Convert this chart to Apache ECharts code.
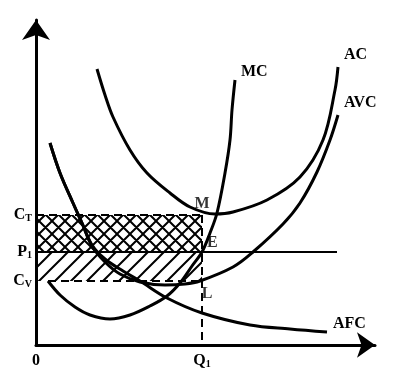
<!DOCTYPE html>
<html><head><meta charset="utf-8">
<script src="https://cdn.jsdelivr.net/npm/echarts@6/dist/echarts.min.js"></script>
<style>html,body{margin:0;padding:0;background:#fff}#c{width:402px;height:384px}</style>
</head><body><div id="c"></div>
<script>
// ---- data (quantity units on x, cost units on y) ----
const acQ  = [6.1, 6.9, 7.7, 9.4, 11.1, 13.4, 15.4, 17.9, 19.7, 23.1, 26.4, 28.7, 29.9, 30.2];
const acC  = [27.6, 25.0, 22.8, 19.5, 17.2, 15.2, 13.8, 13.1, 13.3, 14.5, 16.8, 20.5, 25.5, 27.8];
const avcQ = [1.4, 2.4, 3.7, 4.6, 5.6, 6.9, 8.4, 10.4, 12.9, 14.9, 16.4, 19.7, 21.7, 24.7, 26.4, 28.1, 29.4, 30.2];
const avcC = [20.2, 17.2, 14.2, 12.2, 9.9, 8.3, 7.1, 6.3, 6.0, 6.1, 6.4, 7.8, 9.3, 12.1, 14.2, 17.3, 20.5, 23.0];
const afcQ = [1.4, 2.4, 3.7, 4.6, 5.6, 6.9, 8.7, 10.4, 13.1, 16.6, 21.4, 25.4, 29.1];
const afcC = [20.2, 17.2, 14.2, 12.2, 10.0, 8.6, 7.4, 6.4, 4.7, 3.2, 2.0, 1.6, 1.3];
const mcQ  = [1.2, 2.4, 3.9, 5.4, 7.4, 9.4, 11.4, 13.1, 14.4, 15.6, 16.6, 17.4, 18.1, 18.9, 19.4, 19.6, 19.9];
const mcC  = [6.4, 5.0, 3.8, 3.0, 2.6, 3.0, 3.9, 4.9, 6.2, 7.9, 9.3, 11.2, 13.2, 17.2, 20.5, 23.5, 26.5];
const Q1 = 16.6, CT = 13.0, P1 = 9.3, CV = 6.4;
const priceLineEnd = 30.1;
const curveNames = ['AC', 'AVC', 'AFC', 'MC'];
const pointNames = ['M', 'E', 'L'];
const yTickLabels = {CT: '{b|C}{s|T}', P1: '{b|P}{s|1}', CV: '{b|C}{s|V}'};
const xTickLabels = {zero: '0', Q1: '{b|Q}{s|1}'};

function zip(a, b) { return a.map((v, i) => [v, b[i]]); }
function hatch(size, both) {
  const c = document.createElement('canvas');
  c.width = size; c.height = size;
  const g = c.getContext('2d');
  g.strokeStyle = '#000'; g.lineWidth = 2;
  g.beginPath();
  g.moveTo(-1, size + 1); g.lineTo(size + 1, -1);
  g.moveTo(-2, 2); g.lineTo(2, -2);
  g.moveTo(size - 2, size + 2); g.lineTo(size + 2, size - 2);
  if (both) {
    g.moveTo(-1, -1); g.lineTo(size + 1, size + 1);
    g.moveTo(size - 2, -2); g.lineTo(size + 2, 2);
    g.moveTo(-2, size - 2); g.lineTo(2, size + 2);
  }
  g.stroke();
  return c;
}

const FONT = 'Liberation Serif';
const rich = {
  b: {fontFamily: FONT, fontWeight: 'bold', fontSize: 16, color: '#000'},
  s: {fontFamily: FONT, fontWeight: 'bold', fontSize: 10, color: '#000', verticalAlign: 'bottom', padding: [6, 0, 0, 0]}
};
const curveStyle = {color: '#000', width: 3};
function curve(name, q, c, off) {
  return {
    type: 'line', name: name, data: zip(q, c), smooth: 0.35, symbol: 'none',
    lineStyle: curveStyle, silent: true,
    endLabel: {show: true, formatter: name, fontFamily: FONT, fontWeight: 'bold', fontSize: 16, color: '#000', offset: off}
  };
}

const chart = echarts.init(document.getElementById('c'), null, {renderer: 'canvas'});
chart.setOption({
  animation: false,
  backgroundColor: '#fff',
  grid: {left: 36, right: 27, top: 20, bottom: 39, containLabel: false},
  xAxis: {
    type: 'value', min: 0, max: 33.9,
    splitLine: {show: false},
    axisLine: {show: true, lineStyle: {color: '#000', width: 3}, symbol: ['none', 'arrow'], symbolSize: [19, 18], symbolOffset: [0, 0]},
    axisTick: {show: false},
    axisLabel: {customValues: [0, Q1], margin: 8, formatter: v => v === 0 ? '{b|' + xTickLabels.zero + '}' : xTickLabels.Q1, rich: rich}
  },
  yAxis: {
    type: 'value', min: 0, max: 32.5,
    splitLine: {show: false},
    axisLine: {show: true, lineStyle: {color: '#000', width: 3}, symbol: ['none', 'arrow'], symbolSize: [21, 20], symbolOffset: [0, 0]},
    axisTick: {show: false},
    axisLabel: {customValues: [CV, P1, CT], margin: 4, formatter: v => v === CT ? yTickLabels.CT : (v === P1 ? yTickLabels.P1 : yTickLabels.CV), rich: rich}
  },
  series: [
    {type: 'line', data: [[0, CT], [Q1, CT]], symbol: 'none', silent: true,
     lineStyle: {color: '#000', width: 2, type: [8, 5]},
     markArea: {silent: true, data: [
       [{xAxis: 0, yAxis: CT, itemStyle: {color: {image: hatch(13, true), repeat: 'repeat'}}}, {xAxis: Q1, yAxis: P1}],
       [{xAxis: 0, yAxis: P1, itemStyle: {color: {image: hatch(16, false), repeat: 'repeat'}}}, {xAxis: Q1, yAxis: CV}]
     ]}},
    {type: 'line', data: [[mcQ[0], CV], [Q1, CV]], symbol: 'none', silent: true, lineStyle: {color: '#000', width: 2, type: [8, 5]}},
    {type: 'line', data: [[Q1, CT], [Q1, 0]], symbol: 'none', silent: true, lineStyle: {color: '#000', width: 2, type: [8, 5]}},
    {type: 'line', data: [[0, P1], [priceLineEnd, P1]], symbol: 'none', silent: true, lineStyle: {color: '#000', width: 2}},
    curve(curveNames[0], acQ, acC, [-2, -12]),
    curve(curveNames[1], avcQ, avcC, [-2, -12]),
    curve(curveNames[2], afcQ, afcC, [-2, -8]),
    curve(curveNames[3], mcQ, mcC, [-2, -8]),
    {type: 'scatter', symbolSize: 0, silent: true,
     data: [
       {value: [Q1, CT], label: {formatter: pointNames[0], position: 'top', offset: [0, 2]}},
       {value: [Q1, P1], label: {formatter: pointNames[1], position: 'right', offset: [0, -9]}},
       {value: [Q1, CV], label: {formatter: pointNames[2], position: 'bottom', offset: [5, 0]}}
     ],
     label: {show: true, fontFamily: FONT, fontWeight: 'bold', fontSize: 16, color: '#000'}}
  ]
});
</script></body></html>
